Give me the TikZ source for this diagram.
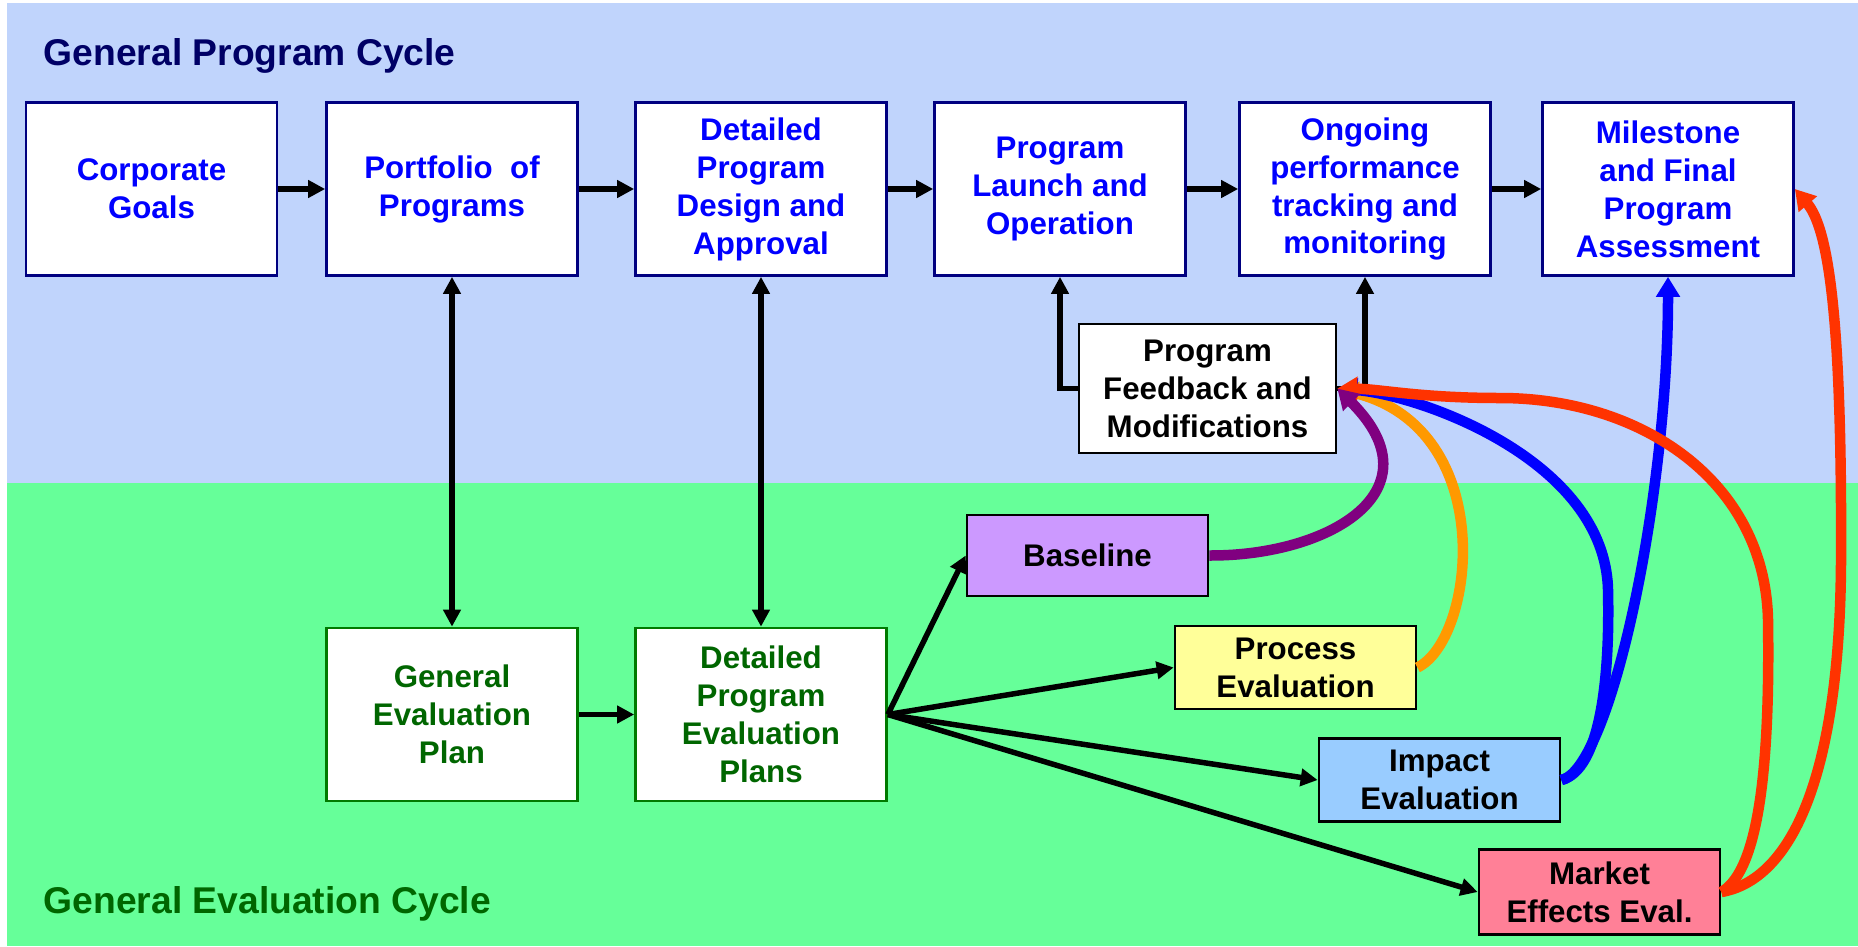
\documentclass[tikz,border=0pt]{standalone}
\usepackage{fontspec}
\setmainfont{Liberation Sans}
\usetikzlibrary{arrows.meta}

\definecolor{cycleblue}{HTML}{C0D4FC}
\definecolor{cyclegreen}{HTML}{66FF99}
\definecolor{navytext}{HTML}{000066}
\definecolor{navyline}{HTML}{000080}
\definecolor{boxblue}{HTML}{0000FF}
\definecolor{evalgreen}{HTML}{006600}
\definecolor{evalline}{HTML}{007A00}
\definecolor{basefill}{HTML}{CC99FF}
\definecolor{procfill}{HTML}{FFFF99}
\definecolor{impfill}{HTML}{99CCFF}
\definecolor{mktfill}{HTML}{FF8097}
\definecolor{purpleline}{HTML}{800080}
\definecolor{orangeline}{HTML}{FF9900}
\definecolor{blueline}{HTML}{0000FF}
\definecolor{redline}{HTML}{FF3300}

\newcommand{\boxfont}{\fontsize{8.9pt}{10.8pt}\selectfont\bfseries}
\newcommand{\cyclefont}{\fontsize{10.6pt}{12pt}\selectfont\bfseries}

\tikzset{
  cycletitle/.style={font=\cyclefont, inner sep=0pt, anchor=base west},
  topbox/.style={draw=navyline, line width=0.27mm, fill=white, text=boxblue,
    minimum width=25.1mm, minimum height=17.3mm, align=center, font=\boxfont},
  evalbox/.style={topbox, draw=evalline, text=evalgreen},
  studybox/.style={draw=black, line width=0.27mm, text=black,
    minimum width=24.1mm, minimum height=8.1mm, align=center, font=\boxfont},
  arr/.style={->, line width=0.55mm},
  feed/.style={-{Triangle[length=2mm,width=2.3mm]}, line width=1.05mm}
}

\begin{document}
\begin{tikzpicture}[x=0.1mm, y=-0.1mm, >={Triangle[length=1.7mm,width=1.7mm]}]
    \useasboundingbox (0,0) rectangle (1858,946);

    % Backgrounds of the two cycles
    \fill[cycleblue] (7,3) rectangle (1858,483);
    \fill[cyclegreen] (7,483) rectangle (1858,946);

    \node[cycletitle, text=navytext] (ptitle) at (43,65) {General Program Cycle};
    \node[cycletitle, text=evalgreen] (etitle) at (43,913) {General Evaluation Cycle};

    % Program cycle row
    \node[topbox] (corp) at (151.5,189) {Corporate\\Goals};
    \node[topbox] (port) at (452,189) {Portfolio~~of\\Programs};
    \node[topbox] (design) at (761,189) {Detailed\\Program\\Design and\\Approval};
    \node[topbox] (launch) at (1060,189) {Program\\Launch and\\Operation};
    \node[topbox] (track) at (1365,189) {Ongoing\\performance\\tracking and\\monitoring};
    \node[topbox] (assess) at (1668,189) {Milestone\\and Final\\Program\\Assessment};

    \node[studybox, fill=white, minimum width=25.7mm, minimum height=12.9mm] (fb) at (1207.5,388.5) {Program\\Feedback and\\Modifications};

    % Evaluation cycle
    \node[evalbox] (geval) at (452,714.5) {General\\Evaluation\\Plan};
    \node[evalbox] (deval) at (761,714.5) {Detailed\\Program\\Evaluation\\Plans};

    \node[studybox, fill=basefill] (base) at (1087.5,555.5) {Baseline};
    \node[studybox, fill=procfill] (proc) at (1295.5,667.5) {Process\\Evaluation};
    \node[studybox, fill=impfill] (imp) at (1439.5,780) {Impact\\Evaluation};
    \node[studybox, fill=mktfill] (mkt) at (1599.5,892) {Market\\Effects Eval.};

    % Black arrows
    \foreach \a/\b in {corp/port, port/design, design/launch, launch/track, track/assess} {
        \draw[arr] (\a.east) -- (\b.west);
    }
    \draw[arr] (fb.west) -| (launch.south);
    \draw[arr] (fb.east) -| (track.south);
    \draw[arr, <->] (port.south) -- (geval.north);
    \draw[arr, <->] (design.south) -- (deval.north);
    \draw[arr] (geval.east) -- (deval.west);
    \foreach \t in {base, proc, imp, mkt} {
        \draw[arr] (deval.east) -- (\t.west);
    }

    % Feedback curves
    \draw[feed, orangeline] (proc.east) .. controls (1475,640) and (1500,430) .. (fb.east);
    \draw[feed, blueline] (imp.east) .. controls (1600,770) and (1610,680) .. (1608,590)
        .. controls (1605,460) and (1420,395) .. (fb.east);
    \draw[feed, blueline] (imp.east) .. controls (1610,770) and (1668,500) .. (assess.south);
    \draw[feed, redline] (mkt.east) .. controls (1760,870) and (1770,760) .. (1768,620)
        .. controls (1765,480) and (1640,398) .. (1500,398)
        .. controls (1420,398) and (1380,389) .. (fb.east);
    \draw[feed, redline] (mkt.east) .. controls (1790,880) and (1840,780) .. (1841,560)
        .. controls (1842,330) and (1830,230) .. (assess.east);
    \draw[feed, purpleline] (base.east) .. controls (1330,556) and (1440,490) .. (fb.east);
\end{tikzpicture}
\end{document}
